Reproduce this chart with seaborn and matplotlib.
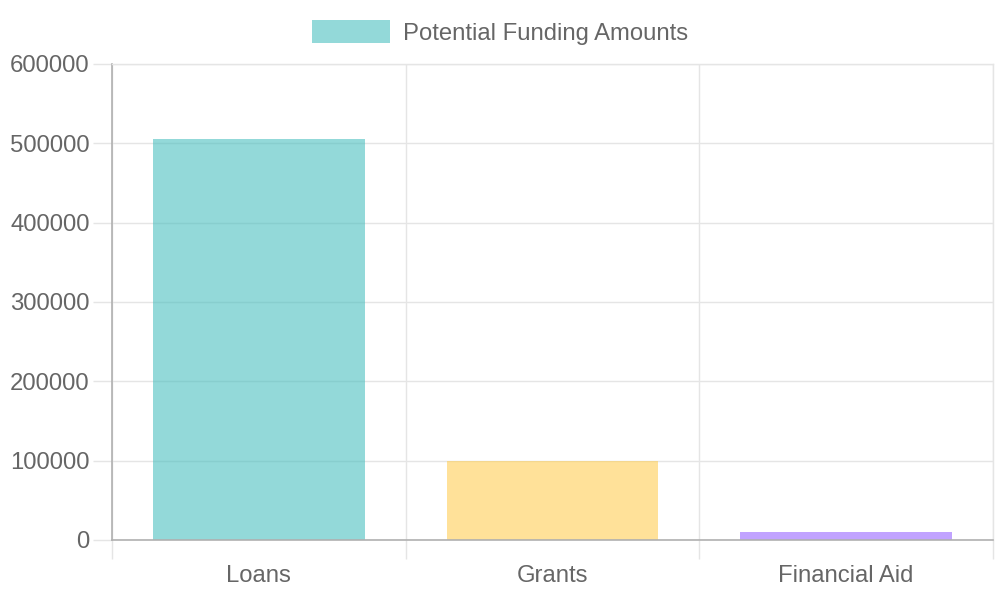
import matplotlib
matplotlib.use("Agg")
import matplotlib.pyplot as plt
import matplotlib.patches as mpatches
import seaborn as sns
import pandas as pd

categories = ["Loans", "Grants", "Financial Aid"]
values = [505000, 100000, 10000]
series_name = "Potential Funding Amounts"
y_ticks = [0, 100000, 200000, 300000, 400000, 500000, 600000]
bar_colors = ["#4bc0c0", "#ffce56", "#9966ff"]

sns.set_theme(style="white")
plt.rcParams["font.family"] = ["Liberation Sans", "DejaVu Sans"]

TEXT = "#666666"
GRID = "#e5e5e5"
AXIS = "#b0b0b0"
FS = 17.2

fig = plt.figure(figsize=(10, 6), dpi=100)
ax = fig.add_axes([112 / 1000, 60 / 600, 881 / 1000, 476 / 600])

df = pd.DataFrame({"category": categories, "value": values})
sns.barplot(data=df, x="category", y="value", hue="category",
            palette=bar_colors, saturation=1, width=0.72, alpha=0.6,
            linewidth=0, legend=False, ax=ax)

ax.set_xlim(-0.5, len(categories) - 0.5)
ax.set_ylim(y_ticks[0], y_ticks[-1])
ax.set_yticks(y_ticks)
ax.set_yticklabels([str(v) for v in y_ticks])
ax.set_xlabel("")
ax.set_ylabel("")

ax.set_xticks([i - 0.5 for i in range(len(categories) + 1)], minor=True)
ax.set_axisbelow(True)
ax.grid(True, axis="y", which="major", color=GRID, linewidth=1.0)
ax.grid(True, axis="x", which="minor", color=GRID, linewidth=1.0)
ax.grid(False, axis="x", which="major")

ax.tick_params(axis="x", which="major", bottom=True, length=0, pad=18,
               labelsize=FS, labelcolor=TEXT)
ax.tick_params(axis="x", which="minor", bottom=True, length=14, width=1.0,
               color=GRID, direction="out")
ax.tick_params(axis="y", which="major", left=True, length=14, width=1.0,
               color=GRID, direction="out", pad=2, labelsize=FS,
               labelcolor=TEXT)

ax.yaxis.get_major_ticks()[0].tick1line.set_color(AXIS)
ax.xaxis.get_minor_ticks()[0].tick1line.set_color(AXIS)

for side in ["left", "bottom"]:
    ax.spines[side].set_color(AXIS)
    ax.spines[side].set_linewidth(1.2)
for side in ["top", "right"]:
    ax.spines[side].set_color(GRID)
    ax.spines[side].set_linewidth(1.0)

handle = mpatches.Patch(facecolor=bar_colors[0], alpha=0.6, linewidth=0,
                        label=series_name)
fig.legend(handles=[handle], loc="center", bbox_to_anchor=(0.5, 1 - 32.5 / 600),
           frameon=False, fontsize=FS, labelcolor=TEXT, handlelength=3.3,
           handleheight=1.1, handletextpad=0.54, borderpad=0, borderaxespad=0)

fig.savefig("out.png", dpi=100)
